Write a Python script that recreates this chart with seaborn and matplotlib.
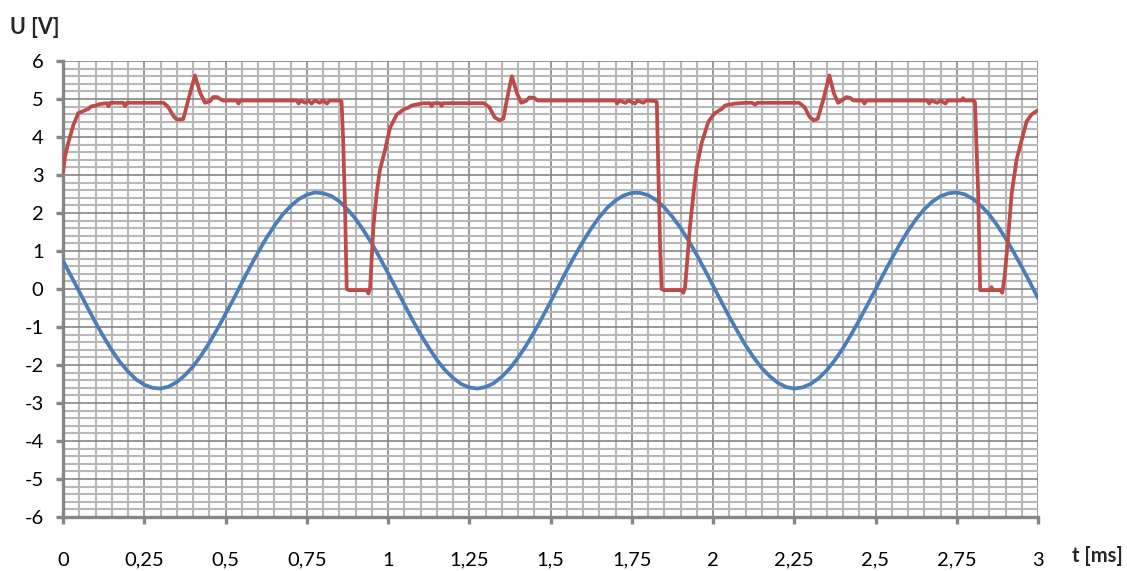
import numpy as np
import pandas as pd
import matplotlib
matplotlib.use("Agg")
import matplotlib.pyplot as plt
from matplotlib.ticker import MultipleLocator, FixedLocator
import seaborn as sns

# Time axis of the sinusoidal input (ms), sampled every 0.025 ms
input_t = [round(0.025 * k, 3) for k in range(121)]
input_v = [
    0.74, 0.34, -0.07, -0.48, -0.88, -1.26, -1.61, -1.92, -2.17, -2.38,
    -2.52, -2.60, -2.62, -2.57, -2.45, -2.27, -2.04, -1.75, -1.42, -1.05,
    -0.66, -0.26, 0.16, 0.57, 0.96, 1.33, 1.66, 1.95, 2.18, 2.36,
    2.48, 2.54, 2.52, 2.45, 2.31, 2.10, 1.85, 1.54, 1.20, 0.82,
    0.42, 0.01, -0.40, -0.81, -1.19, -1.54, -1.86, -2.13, -2.34, -2.50,
    -2.59, -2.62, -2.58, -2.48, -2.31, -2.09, -1.81, -1.49, -1.13, -0.74,
    -0.34, 0.08, 0.49, 0.88, 1.25, 1.59, 1.89, 2.14, 2.33, 2.46,
    2.53, 2.53, 2.47, 2.34, 2.15, 1.90, 1.61, 1.27, 0.90, 0.50,
    0.09, -0.32, -0.73, -1.11, -1.48, -1.80, -2.08, -2.30, -2.47, -2.58,
    -2.62, -2.59, -2.50, -2.35, -2.14, -1.87, -1.56, -1.20, -0.82, -0.42,
    -0.01, 0.40, 0.80, 1.18, 1.53, 1.84, 2.10, 2.30, 2.44, 2.52,
    2.54, 2.49, 2.37, 2.19, 1.96, 1.67, 1.34, 0.97, 0.58, 0.18,
    -0.24,
]

# Comparator output (ms, V)
output_t = [
    0.000, 0.006, 0.016, 0.032, 0.047, 0.062, 0.078, 0.088, 0.100, 0.110,
    0.124, 0.135, 0.140, 0.145, 0.185, 0.191, 0.197, 0.309, 0.322, 0.340,
    0.350, 0.370, 0.386, 0.406, 0.422, 0.437, 0.452, 0.462, 0.475, 0.483,
    0.493, 0.535, 0.540, 0.545, 0.720, 0.725, 0.732, 0.745, 0.755, 0.765,
    0.775, 0.790, 0.800, 0.812, 0.820, 0.850, 0.857, 0.862, 0.868, 0.873,
    0.880, 0.934, 0.940, 0.945, 0.955, 0.965, 0.975, 0.991, 1.006, 1.027,
    1.047, 1.062, 1.073, 1.109, 1.130, 1.134, 1.140, 1.160, 1.165, 1.170,
    1.180, 1.295, 1.312, 1.328, 1.343, 1.355, 1.366, 1.381, 1.397, 1.410,
    1.425, 1.435, 1.450, 1.460, 1.700, 1.705, 1.712, 1.730, 1.740, 1.760,
    1.768, 1.785, 1.795, 1.822, 1.827, 1.832, 1.837, 1.842, 1.850, 1.905,
    1.909, 1.914, 1.919, 1.929, 1.940, 1.950, 1.965, 1.986, 2.006, 2.027,
    2.037, 2.068, 2.100, 2.120, 2.130, 2.136, 2.265, 2.282, 2.298, 2.310,
    2.322, 2.340, 2.358, 2.372, 2.385, 2.398, 2.410, 2.422, 2.432, 2.460,
    2.466, 2.472, 2.660, 2.665, 2.672, 2.690, 2.700, 2.715, 2.722, 2.765,
    2.769, 2.775, 2.802, 2.806, 2.816, 2.822, 2.855, 2.857, 2.860, 2.886,
    2.890, 2.898, 2.909, 2.919, 2.934, 2.950, 2.965, 2.980, 2.995, 3.000,
]
output_v = [
    3.08, 3.48, 3.84, 4.32, 4.63, 4.68, 4.74, 4.81, 4.82, 4.86,
    4.88, 4.89, 4.81, 4.90, 4.90, 4.81, 4.90, 4.90, 4.81, 4.55,
    4.46, 4.47, 4.99, 5.62, 5.16, 4.90, 4.94, 5.05, 5.05, 5.00,
    4.96, 4.96, 4.88, 4.96, 4.96, 4.88, 4.96, 4.90, 4.96, 4.88,
    4.96, 4.90, 4.96, 4.88, 4.96, 4.96, 4.94, 3.93, 2.07, 0.00,
    -0.03, -0.03, -0.12, 0.04, 1.63, 2.51, 3.13, 3.66, 4.24, 4.59,
    4.72, 4.77, 4.83, 4.89, 4.89, 4.81, 4.89, 4.89, 4.82, 4.89,
    4.89, 4.89, 4.78, 4.52, 4.44, 4.48, 4.99, 5.60, 5.15, 4.90,
    4.95, 5.04, 5.03, 4.96, 4.96, 4.88, 4.96, 4.90, 4.96, 4.88,
    4.96, 4.90, 4.96, 4.95, 4.92, 3.00, 1.20, 0.00, -0.03, -0.03,
    -0.10, 0.05, 0.56, 1.63, 2.51, 3.22, 3.84, 4.41, 4.63, 4.74,
    4.83, 4.88, 4.90, 4.90, 4.85, 4.90, 4.90, 4.78, 4.52, 4.44,
    4.48, 5.00, 5.62, 5.15, 4.90, 4.97, 5.05, 5.03, 4.96, 4.96,
    4.88, 4.96, 4.96, 4.88, 4.96, 4.90, 4.96, 4.88, 4.96, 4.96,
    5.02, 4.96, 4.96, 4.92, 2.51, -0.03, -0.03, 0.05, -0.03, -0.03,
    -0.10, 0.39, 1.45, 2.51, 3.40, 3.93, 4.41, 4.59, 4.68, 4.70,
]

x_ticks = [0, 0.25, 0.5, 0.75, 1, 1.25, 1.5, 1.75, 2, 2.25, 2.5, 2.75, 3]
x_tick_labels = ["0", "0,25", "0,5", "0,75", "1", "1,25", "1,5", "1,75",
                 "2", "2,25", "2,5", "2,75", "3"]
y_ticks = list(range(-6, 7))

sns.set_theme(style="white")
plt.rcParams["font.family"] = ["Lato", "DejaVu Sans"]

fig = plt.figure(figsize=(11.27, 5.71), dpi=100)
ax = fig.add_axes([63 / 1127, 1 - 517 / 571, 975 / 1127, 456 / 571])

df_in = pd.DataFrame({"t": input_t, "U": input_v})
df_out = pd.DataFrame({"t": output_t, "U": output_v})

sns.lineplot(data=df_in, x="t", y="U", ax=ax, color="#4A7EBB",
             linewidth=2.7, estimator=None, sort=False, zorder=4)
sns.lineplot(data=df_out, x="t", y="U", ax=ax, color="#BE4B48",
             linewidth=2.7, estimator=None, sort=False, zorder=5)

ax.set_xlim(0, 3)
ax.set_ylim(-6, 6)
ax.xaxis.set_major_locator(FixedLocator(x_ticks))
ax.set_xticklabels(x_tick_labels)
ax.yaxis.set_major_locator(FixedLocator(y_ticks))
ax.set_yticklabels([str(v) for v in y_ticks])
ax.xaxis.set_minor_locator(MultipleLocator(0.05))
ax.yaxis.set_minor_locator(MultipleLocator(0.2))

ax.grid(which="minor", color="#B8B8B8", linewidth=1.5, zorder=0)
ax.grid(which="major", color="#868686", linewidth=1.2, zorder=1)
ax.set_axisbelow(True)

for side in ("top", "right"):
    ax.spines[side].set_visible(False)
for side in ("left", "bottom"):
    ax.spines[side].set_color("#868686")
    ax.spines[side].set_linewidth(2.4)
    ax.spines[side].set_zorder(3)

ax.tick_params(which="major", direction="out", length=5, width=2.4,
               color="#868686", labelsize=14.5, labelcolor="black")
ax.tick_params(which="minor", length=0)
ax.tick_params(axis="x", pad=20, bottom=True)
ax.tick_params(axis="y", pad=9, left=True)

ax.set_xlabel("")
ax.set_ylabel("")

fig.text(10 / 1127, 1 - 28 / 571, "U [V]", fontsize=15.5, fontweight="bold",
         ha="left", va="center")
fig.text(1123 / 1127, 1 - 556 / 571, "t [ms]", fontsize=14.5,
         fontweight="bold", ha="right", va="center")

fig.savefig("out.png", dpi=100, facecolor="white")
